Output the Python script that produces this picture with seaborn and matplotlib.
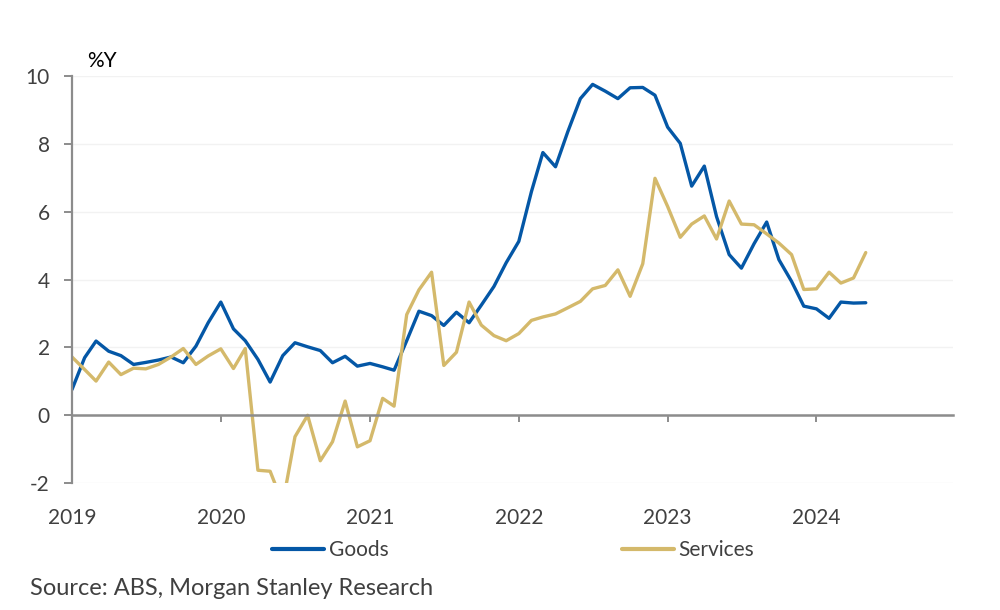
import pandas as pd
import matplotlib.pyplot as plt
import matplotlib.dates as mdates
import seaborn as sns

# monthly, Jan 2019 - May 2024, %Y
start_month = "2019-01-01"
goods = [0.76, 1.70, 2.19, 1.89, 1.76, 1.50, 1.56, 1.63, 1.72, 1.55,
         2.04, 2.73, 3.34, 2.55, 2.20, 1.65, 0.98, 1.76, 2.14, 2.02,
         1.91, 1.55, 1.74, 1.45, 1.53, 1.43, 1.33, 2.20, 3.07, 2.94,
         2.65, 3.04, 2.73, 3.25, 3.80, 4.50, 5.13, 6.60, 7.75, 7.33,
         8.36, 9.34, 9.76, 9.56, 9.34, 9.66, 9.67, 9.44, 8.50, 8.02,
         6.76, 7.35, 5.86, 4.74, 4.34, 5.06, 5.70, 4.59, 3.95, 3.22,
         3.14, 2.86, 3.34, 3.31, 3.32]
services = [1.72, 1.35, 1.01, 1.57, 1.20, 1.39, 1.37, 1.50, 1.72, 1.97,
            1.50, 1.75, 1.96, 1.38, 1.97, -1.62, -1.65, -2.60, -0.63, 0.00,
            -1.34, -0.78, 0.42, -0.93, -0.75, 0.50, 0.27, 2.97, 3.70, 4.22,
            1.47, 1.86, 3.34, 2.66, 2.35, 2.20, 2.41, 2.80, 2.90, 2.99,
            3.17, 3.36, 3.73, 3.83, 4.29, 3.51, 4.47, 6.99, 6.16, 5.25,
            5.64, 5.88, 5.20, 6.32, 5.64, 5.62, 5.35, 5.08, 4.74, 3.71,
            3.73, 4.22, 3.90, 4.05, 4.80]
series_names = ["Goods", "Services"]
colors = ["#0457A6", "#D4B96B"]

months = pd.date_range(start_month, periods=len(goods), freq="MS")
data = pd.concat([
    pd.DataFrame({"date": months, "value": goods, "series": "Goods"}),
    pd.DataFrame({"date": months, "value": services, "series": "Services"}),
], ignore_index=True)

sns.set_theme(style="white")
plt.rcParams["font.family"] = ["Lato", "DejaVu Sans"]
plt.rcParams["axes.unicode_minus"] = False
text_color = "#404040"
axis_gray = "#8c8c8c"

fig = plt.figure(figsize=(10, 6.1), dpi=100)
ax = fig.add_axes([0.072, 0.208, 0.881, 0.667])

sns.lineplot(data=data, x="date", y="value", hue="series",
             hue_order=series_names, palette=colors, linewidth=2.4,
             legend=False, ax=ax)

ax.set_ylim(-2, 10)
ax.set_yticks(range(-2, 11, 2))
ax.set_xlim(pd.Timestamp("2019-01-01"), pd.Timestamp("2024-12-01"))
ax.xaxis.set_major_locator(mdates.YearLocator())
ax.xaxis.set_major_formatter(mdates.DateFormatter("%Y"))
ax.set_xlabel("")
ax.set_ylabel("")

ax.grid(axis="y", color="#f2f2f2", linewidth=1.0)
ax.grid(axis="x", visible=False)
for side in ["top", "right"]:
    ax.spines[side].set_visible(False)
ax.spines["left"].set_color(axis_gray)
ax.spines["left"].set_linewidth(1.6)
ax.spines["bottom"].set_color(axis_gray)
ax.spines["bottom"].set_linewidth(1.8)
ax.spines["bottom"].set_position(("data", 0))

ax.tick_params(axis="y", direction="out", length=6, width=1.4,
               color=axis_gray, pad=10, labelsize=15, labelcolor=text_color,
               left=True)
ax.tick_params(axis="x", direction="out", length=5, width=1.4,
               color=axis_gray, pad=62, labelsize=15, labelcolor=text_color,
               bottom=True)

fig.text(0.087, 0.9, "%Y", fontsize=15, color="black", ha="left", va="center")

handles = [plt.Line2D([], [], color=c, linewidth=3) for c in colors]
fig.legend(handles, series_names, loc="center", bbox_to_anchor=(0.513, 0.098),
           ncol=2, frameon=False, fontsize=15, handlelength=2.5,
           handletextpad=0.2, columnspacing=11.2, labelcolor=text_color)

fig.text(0.03, 0.036, "Source: ABS, Morgan Stanley Research", fontsize=17,
         color=text_color, ha="left", va="center")

fig.savefig("out.png", dpi=100)
plt.close(fig)
